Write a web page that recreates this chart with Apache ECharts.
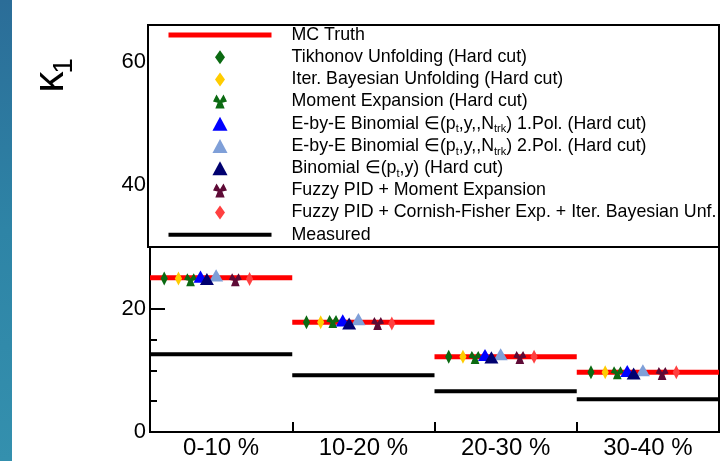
<!DOCTYPE html>
<html>
<head>
<meta charset="utf-8">
<script src="https://cdn.jsdelivr.net/npm/echarts@6/dist/echarts.min.js"></script>
<style>
html,body{margin:0;padding:0;background:#fff;}
#chart{width:728px;height:461px;}
</style>
</head>
<body>
<div id="chart"></div>
<script>
// ---- data ----
var categories = ['0-10 %', '10-20 %', '20-30 %', '30-40 %'];
var mcTruth     = [25.0, 17.8, 12.2, 9.7];
var measured    = [12.6, 9.2, 6.6, 5.3];
var tikhonov    = [24.9, 17.8, 12.2, 9.7];
var iterBayes   = [24.9, 17.8, 12.2, 9.7];
var momentExp   = [24.7, 17.9, 12.1, 9.6];
var ebeBinom1   = [25.2, 18.1, 12.5, 9.9];
var ebeBinom2   = [25.4, 18.3, 12.6, 10.0];
var binomPtY    = [24.8, 17.6, 12.1, 9.5];
var fuzzyMoment = [24.7, 17.6, 12.1, 9.5];
var fuzzyCF     = [24.8, 17.6, 12.2, 9.7];
var yTickValues = [0, 20, 40, 60];
var yMax = 66;

// ---- styling ----
var FONT = '"Liberation Sans", Arial, sans-serif';
var DIAMOND = 'path://M5,0L10,7L5,14L0,7Z';
var TRIANGLE = 'path://M7,0L14,13L0,13Z';
var TRIFOIL = 'path://M0,6L3,0L6,5L9,0L12,6L8,7L10,12L2,12L4,7Z';

function stepLine(vals) {
  var out = [];
  vals.forEach(function (v, i) {
    out.push([i, v]); out.push([i + 1, v]);
    if (i < vals.length - 1) out.push([i + 1, '-']);
  });
  return out;
}
function dodged(vals, d) {
  return vals.map(function (v, i) { return [i + d, v]; });
}

var markerDefs = [
  { name: 'Tikhonov Unfolding (Hard cut)', vals: tikhonov, d: 0.10, sym: DIAMOND, size: [10, 14], color: '#0b6a12' },
  { name: 'Iter. Bayesian Unfolding (Hard cut)', vals: iterBayes, d: 0.20, sym: DIAMOND, size: [10, 14], color: '#ffcc00' },
  { name: 'Moment Expansion (Hard cut)', vals: momentExp, d: 0.285, sym: TRIFOIL, size: [13, 13], color: '#0b6a12' },
  { name: 'EBE1', vals: ebeBinom1, d: 0.355, sym: TRIANGLE, size: [14, 13], color: '#0000ff' },
  { name: 'EBE2', vals: ebeBinom2, d: 0.465, sym: TRIANGLE, size: [14, 13], color: '#7f9fd8' },
  { name: 'BINPTY', vals: binomPtY, d: 0.40, sym: TRIANGLE, size: [14, 13], color: '#000070' },
  { name: 'Fuzzy PID + Moment Expansion', vals: fuzzyMoment, d: 0.60, sym: TRIFOIL, size: [13, 13], color: '#5e0a36' },
  { name: 'Fuzzy PID + Cornish-Fisher Exp. + Iter. Bayesian Unf.', vals: fuzzyCF, d: 0.70, sym: DIAMOND, size: [10, 14], color: '#ff4040' }
];

var legendLabels = {
  'EBE1': 'E-by-E Binomial ∈(p{s|t},y,,N{s|trk}) 1.Pol. (Hard cut)',
  'EBE2': 'E-by-E Binomial ∈(p{s|t},y,,N{s|trk}) 2.Pol. (Hard cut)',
  'BINPTY': 'Binomial ∈(p{s|t},y) (Hard cut)'
};

var series = [
  { name: 'MC Truth', type: 'line', data: stepLine(mcTruth), symbol: 'none', showSymbol: false, connectNulls: false,
    lineStyle: { color: '#ff0000', width: 5 }, itemStyle: { color: 'rgba(0,0,0,0)' }, z: 2 },
  { name: 'Measured', type: 'line', data: stepLine(measured), symbol: 'none', showSymbol: false, connectNulls: false,
    lineStyle: { color: '#000000', width: 4 }, itemStyle: { color: 'rgba(0,0,0,0)' }, z: 2 }
];
markerDefs.forEach(function (m) {
  series.push({
    name: m.name, type: 'scatter', data: dodged(m.vals, m.d),
    symbol: m.sym, symbolSize: m.size, symbolKeepAspect: true,
    itemStyle: { color: m.color, opacity: 1 }, z: 3
  });
});

var legendOrder = ['MC Truth'].concat(markerDefs.map(function (m) { return m.name; })).concat(['Measured']);

var chart = echarts.init(document.getElementById('chart'), null, { renderer: 'canvas' });
chart.setOption({
  animation: false,
  backgroundColor: '#ffffff',
  textStyle: { fontFamily: FONT },
  grid: { left: 150, right: 9, top: 25, bottom: 29, show: true, borderColor: '#000', borderWidth: 2, backgroundColor: 'transparent' },
  xAxis: [
    { type: 'value', min: 0, max: categories.length, show: false },
    { type: 'category', data: categories, boundaryGap: true, position: 'bottom',
      axisLine: { show: true, onZero: false, lineStyle: { color: '#000', width: 2 } },
      axisTick: { show: true, inside: true, length: 10, alignWithLabel: false, lineStyle: { color: '#000', width: 2 } },
      axisLabel: { color: '#000', fontSize: 24, fontFamily: FONT, margin: 4 },
      splitLine: { show: false } }
  ],
  yAxis: {
    type: 'value', min: 0, max: yMax, interval: 20,
    axisLine: { show: true, lineStyle: { color: '#000', width: 2 } },
    axisTick: { show: true, inside: true, length: 15, lineStyle: { color: '#000', width: 2 } },
    minorTick: { show: true, splitNumber: 4, length: 7, lineStyle: { color: '#000', width: 2 } },
    axisLabel: { color: '#000', fontSize: 22, fontFamily: FONT, margin: 4, showMaxLabel: false,
      formatter: function (v) { return yTickValues.indexOf(v) >= 0 ? String(v) : ''; } },
    splitLine: { show: false }
  },
  legend: {
    orient: 'vertical', left: 166, top: 24, padding: 0,
    itemWidth: 103, itemHeight: 14, itemGap: 0.2,
    symbolKeepAspect: true,
    lineStyle: { width: 'inherit' },
    data: legendOrder,
    selectedMode: false,
    formatter: function (name) { return legendLabels[name] || name; },
    textStyle: { color: '#000', fontSize: 17.8, lineHeight: 22, fontFamily: FONT, padding: [0, 0, 0, 15],
      rich: { s: { fontSize: 11, lineHeight: 11, padding: [11, 0, 0, 0], fontFamily: FONT, color: '#000' } } },
    z: 5
  },
  graphic: [
    { type: 'rect', shape: { x: 0, y: 0, width: 12, height: 461 }, z: 10,
      style: { fill: new echarts.graphic.LinearGradient(0, 0, 0, 1, [
        { offset: 0, color: '#2b6d98' }, { offset: 0.5, color: '#2e84a6' }, { offset: 1, color: '#3490ae' }]) } },
    { type: 'rect', shape: { x: 148, y: 25, width: 571, height: 222 }, z: 3,
      style: { fill: '#ffffff', stroke: '#000000', lineWidth: 2 } },
    { type: 'text', x: 51, y: 82, rotation: Math.PI / 2, z: 10,
      style: { text: 'κ', align: 'center', verticalAlign: 'middle', fontSize: 42, fontFamily: FONT, fill: '#000' } },
    { type: 'text', x: 64, y: 66, rotation: Math.PI / 2, z: 10,
      style: { text: '1', align: 'center', verticalAlign: 'middle', fontSize: 28, fontFamily: FONT, fill: '#000' } }
  ],
  series: series
});
</script>
</body>
</html>
